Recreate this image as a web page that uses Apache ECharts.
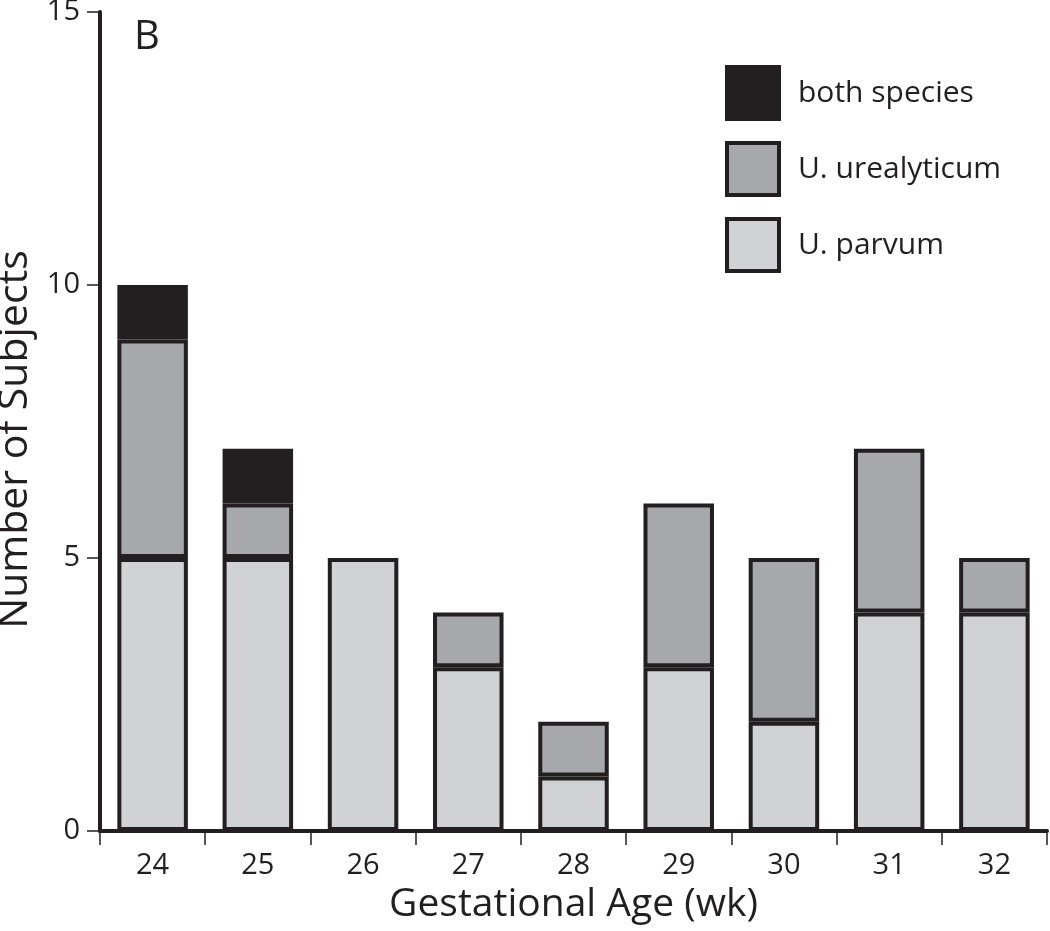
<!DOCTYPE html>
<html>
<head>
<meta charset="utf-8">
<script src="https://cdn.jsdelivr.net/npm/echarts@6/dist/echarts.min.js"></script>
<style>html,body{margin:0;padding:0;background:#fff}#c{width:1050px;height:931px}</style>
</head>
<body>
<div id="c"></div>
<script>
const categories = ['24','25','26','27','28','29','30','31','32'];
const parvum = [5,5,5,3,1,3,2,4,4];
const urealyticum = [4,1,0,1,1,3,3,3,1];
const both = [1,1,0,0,0,0,0,0,0];
const seriesNames = ['U. parvum','U. urealyticum','both species'];
const yTicks = [0,5,10,15];

const FONT = '"Open Sans", sans-serif';
const INK = '#231f20';
const fills = ['#d1d2d4','#a7a8ab','#231f20'];
const chart = echarts.init(document.getElementById('c'));
const dataSets = [parvum, urealyticum, both];
chart.setOption({
  animation:false,
  textStyle:{fontFamily:FONT},
  title:{text:'B',left:129,top:13,padding:5,textStyle:{fontFamily:FONT,fontSize:40,fontWeight:'normal',color:INK}},
  legend:{
    orient:'vertical',left:725,top:65,padding:0,itemWidth:52,itemHeight:52,itemGap:20,
    data:[seriesNames[2],seriesNames[1],seriesNames[0]],
    itemStyle:{borderColor:INK,borderWidth:4},
    textStyle:{fontFamily:FONT,fontSize:30,color:INK,padding:[0,0,0,14]},
    icon:'rect'
  },
  grid:{left:100,right:3,top:12,bottom:100,containLabel:false,outerBoundsMode:'none'},
  xAxis:{
    type:'category',data:categories,
    axisLine:{lineStyle:{color:INK,width:4}},
    axisTick:{show:true,length:14,lineStyle:{color:INK,width:1.5}},
    axisLabel:{fontFamily:FONT,fontSize:29,color:INK,margin:20},
    name:'Gestational Age (wk)',nameLocation:'middle',nameGap:53,
    nameTextStyle:{fontFamily:FONT,fontSize:39,color:INK}
  },
  yAxis:{
    type:'value',min:yTicks[0],max:yTicks[yTicks.length-1],interval:yTicks[1]-yTicks[0],
    splitLine:{show:false},
    axisLine:{show:true,lineStyle:{color:INK,width:4}},
    axisTick:{show:true,length:13,lineStyle:{color:INK,width:1.5}},
    axisLabel:{fontFamily:FONT,fontSize:29,color:INK,margin:20},
    name:'Number of Subjects',nameLocation:'middle',nameGap:64,
    nameTextStyle:{fontFamily:FONT,fontSize:41,color:INK,padding:[0,36,0,0]}
  },
  series: dataSets.map((d,i)=>({
    name:seriesNames[i],type:'bar',stack:'s',barWidth:'67%',
    data:d.map(v=>v===0?null:v),
    itemStyle:{color:fills[i],borderColor:INK,borderWidth:4}
  }))
});
</script>
</body>
</html>
